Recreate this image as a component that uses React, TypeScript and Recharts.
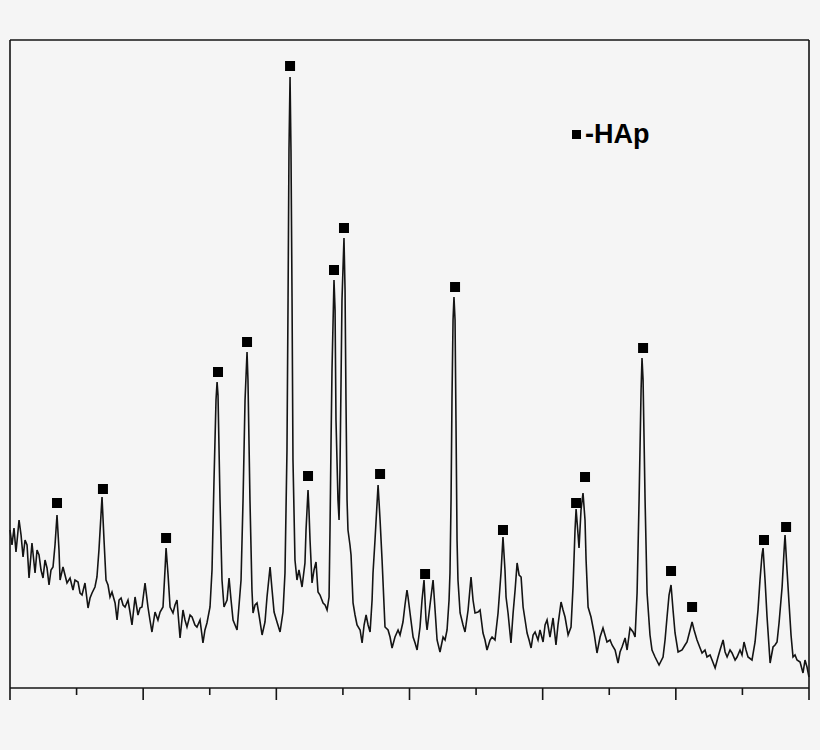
import { ComposedChart, Line, Scatter, XAxis, YAxis } from 'recharts'

// XRD pattern, 2θ (deg) vs intensity (a.u.)
const pattern: [number, number][] = [
  [10.0, 158], [10.15, 143], [10.3, 160], [10.45, 136], [10.68, 168], [10.83, 153],
  [10.98, 131], [11.13, 148], [11.28, 143], [11.43, 110], [11.65, 145], [11.88, 115],
  [12.03, 138], [12.18, 133], [12.33, 118], [12.48, 110], [12.63, 128], [12.78, 120],
  [12.93, 103], [13.08, 118], [13.23, 121], [13.38, 143], [13.53, 173], [13.68, 138],
  [13.76, 108], [13.98, 121], [14.13, 113], [14.28, 105], [14.51, 110], [14.73, 98],
  [14.88, 108], [15.11, 106], [15.26, 95], [15.41, 93], [15.63, 105], [15.86, 80],
  [16.01, 90], [16.16, 95], [16.38, 101], [16.53, 111], [16.68, 138], [16.91, 191],
  [17.06, 148], [17.21, 108], [17.36, 103], [17.51, 91], [17.66, 96], [17.89, 85],
  [18.04, 68], [18.19, 88], [18.34, 90], [18.49, 83], [18.64, 81], [18.86, 88],
  [19.01, 76], [19.16, 63], [19.39, 91], [19.61, 73], [19.76, 80], [19.91, 81],
  [20.14, 105], [20.36, 81], [20.51, 68], [20.66, 56], [20.89, 76], [21.11, 68],
  [21.27, 76], [21.49, 81], [21.64, 118], [21.72, 140], [21.87, 113], [22.02, 81],
  [22.24, 75], [22.39, 83], [22.54, 88], [22.77, 50], [22.99, 78], [23.14, 68],
  [23.29, 61], [23.52, 73], [23.67, 71], [23.89, 63], [24.04, 61], [24.27, 68],
  [24.49, 45], [24.64, 58], [24.79, 65], [25.02, 81], [25.17, 118], [25.32, 208],
  [25.47, 288], [25.55, 306], [25.62, 293], [25.77, 188], [25.92, 108], [26.07, 81],
  [26.3, 88], [26.45, 110], [26.6, 88], [26.75, 68], [26.9, 63], [27.05, 58],
  [27.2, 83], [27.35, 108], [27.5, 188], [27.65, 288], [27.8, 336], [27.87, 308],
  [28.02, 188], [28.17, 98], [28.25, 75], [28.4, 83], [28.55, 85], [28.7, 73],
  [28.93, 53], [29.15, 66], [29.3, 91], [29.53, 121], [29.68, 98], [29.83, 76],
  [30.05, 66], [30.28, 56], [30.5, 76], [30.65, 115], [30.8, 238], [30.88, 388],
  [30.95, 538], [31.03, 611], [31.1, 538], [31.18, 388], [31.25, 228], [31.4, 128],
  [31.55, 108], [31.7, 118], [31.93, 101], [32.15, 125], [32.23, 158], [32.38, 198],
  [32.45, 178], [32.53, 148], [32.68, 105], [32.83, 118], [32.98, 126], [33.13, 96],
  [33.28, 93], [33.51, 85], [33.66, 83], [33.81, 78], [33.96, 91], [34.03, 158],
  [34.11, 248], [34.18, 318], [34.33, 408], [34.41, 378], [34.48, 268], [34.63, 188],
  [34.71, 168], [34.78, 218], [34.86, 308], [34.93, 388], [35.08, 450], [35.16, 398],
  [35.23, 288], [35.31, 188], [35.38, 158], [35.53, 143], [35.61, 133], [35.76, 85],
  [35.91, 73], [36.06, 63], [36.29, 58], [36.44, 45], [36.59, 63], [36.74, 73],
  [36.89, 63], [37.04, 56], [37.19, 88], [37.26, 115], [37.41, 148], [37.64, 203],
  [37.79, 168], [37.94, 128], [38.16, 61], [38.39, 58], [38.54, 51], [38.69, 40],
  [38.91, 51], [39.14, 58], [39.29, 53], [39.51, 66], [39.66, 83], [39.81, 98],
  [39.89, 91], [40.04, 75], [40.27, 51], [40.42, 45], [40.57, 38], [40.79, 61],
  [40.94, 88], [41.09, 108], [41.24, 68], [41.32, 58], [41.54, 83], [41.77, 108],
  [41.92, 78], [42.07, 48], [42.29, 36], [42.52, 51], [42.67, 48], [42.82, 58],
  [42.97, 88], [43.04, 115], [43.12, 188], [43.19, 288], [43.27, 368], [43.34, 391],
  [43.42, 368], [43.49, 268], [43.57, 148], [43.64, 108], [43.8, 75], [44.02, 63],
  [44.17, 56], [44.4, 78], [44.62, 111], [44.77, 88], [44.92, 75], [45.15, 76],
  [45.3, 78], [45.52, 55], [45.67, 48], [45.82, 38], [46.05, 48], [46.2, 51],
  [46.42, 48], [46.65, 75], [46.87, 115], [47.02, 151], [47.17, 118], [47.25, 91],
  [47.4, 75], [47.62, 45], [47.78, 75], [47.93, 98], [48.08, 125], [48.23, 113],
  [48.38, 111], [48.53, 81], [48.68, 68], [48.83, 55], [48.98, 48], [49.13, 40],
  [49.28, 53], [49.43, 56], [49.65, 48], [49.8, 58], [50.03, 46], [50.18, 63],
  [50.33, 68], [50.55, 51], [50.78, 70], [51.0, 43], [51.15, 63], [51.38, 86],
  [51.53, 78], [51.68, 71], [51.91, 53], [52.13, 61], [52.28, 101], [52.43, 158],
  [52.51, 179], [52.66, 153], [52.73, 140], [52.88, 178], [53.03, 195], [53.18, 168],
  [53.26, 128], [53.41, 81], [53.63, 71], [53.86, 55], [54.08, 35], [54.31, 51],
  [54.53, 60], [54.68, 53], [54.83, 46], [55.06, 48], [55.21, 43], [55.44, 38],
  [55.66, 25], [55.81, 36], [55.96, 41], [56.19, 50], [56.34, 38], [56.56, 60],
  [56.79, 56], [56.94, 51], [57.09, 95], [57.24, 188], [57.39, 298], [57.46, 330],
  [57.54, 308], [57.69, 188], [57.84, 95], [58.06, 53], [58.21, 38], [58.44, 31],
  [58.74, 23], [59.04, 31], [59.19, 48], [59.34, 71], [59.49, 93], [59.64, 103],
  [59.79, 78], [59.94, 55], [60.17, 36], [60.47, 38], [60.69, 43], [60.84, 46],
  [61.07, 58], [61.22, 66], [61.37, 58], [61.59, 48], [61.82, 40], [61.97, 35],
  [62.19, 38], [62.34, 31], [62.57, 33], [62.72, 28], [62.95, 20], [63.17, 31],
  [63.32, 38], [63.55, 48], [63.7, 36], [63.85, 31], [64.07, 38], [64.22, 35],
  [64.45, 28], [64.6, 31], [64.82, 38], [64.97, 33], [65.12, 46], [65.27, 38],
  [65.42, 31], [65.72, 28], [65.95, 46], [66.17, 78], [66.32, 108], [66.47, 133],
  [66.55, 140], [66.7, 108], [66.85, 71], [67.08, 25], [67.3, 41], [67.45, 43],
  [67.6, 46], [67.75, 65], [67.98, 101], [68.13, 138], [68.2, 153], [68.35, 118],
  [68.5, 85], [68.65, 53], [68.8, 31], [68.95, 33], [69.1, 28], [69.33, 26],
  [69.55, 15], [69.7, 28], [69.85, 21], [70.0, 11],
]

// HAp reflections marked with ■ (position, marker height)
const hapPeaks: [number, number][] = [
  [13.53, 185], [16.98, 199], [21.72, 150], [25.62, 316], [27.8, 346],
  [31.03, 622], [32.38, 212], [34.33, 418], [35.08, 460], [37.79, 214],
  [41.17, 114], [43.42, 401], [47.02, 158], [52.51, 185], [53.18, 211],
  [57.54, 340], [59.64, 117], [61.22, 81], [66.62, 148], [68.28, 161],
]

const xTicks = [10, 15, 20, 25, 30, 35, 40, 45, 50, 55, 60, 65, 70]
const legendLabel = '-HAp'

const spectrum = pattern.map(([t, i]) => ({ t, i }))
const markers = hapPeaks.map(([t, m]) => ({ t, m }))

const ink = '#141414'
const frame = { stroke: ink, strokeWidth: 1.6 }

function AxisTick(props: any) {
  const { x, y, payload } = props
  const major = payload.value % 10 === 0
  return <line x1={x} y1={y} x2={x} y2={y + (major ? 12 : 7)} stroke={ink} strokeWidth={1.6} />
}

function SquareMark(props: any) {
  const { cx, cy } = props
  return <rect x={cx - 5} y={cy - 5} width={10} height={10} fill="#000" />
}

export default function App() {
  return (
    <div
      style={{
        position: 'absolute',
        left: 0,
        top: 0,
        width: 820,
        height: 750,
        background: '#f5f5f5',
        fontFamily: '"Liberation Sans", Arial, sans-serif',
      }}
    >
      <ComposedChart
        width={820}
        height={750}
        data={spectrum}
        margin={{ top: 39, right: 10, bottom: 32, left: 9 }}
      >
        <XAxis
          dataKey="t"
          type="number"
          domain={[10, 70]}
          ticks={xTicks}
          height={30}
          tickSize={0}
          tickMargin={0}
          tickLine={false}
          tick={<AxisTick />}
          axisLine={frame}
        />
        <XAxis
          xAxisId="top"
          dataKey="t"
          type="number"
          orientation="top"
          domain={[10, 70]}
          height={1}
          tick={false}
          tickLine={false}
          axisLine={frame}
        />
        <YAxis
          type="number"
          domain={[0, 648]}
          width={1}
          tick={false}
          tickLine={false}
          axisLine={frame}
        />
        <YAxis
          yAxisId="right"
          orientation="right"
          type="number"
          domain={[0, 648]}
          width={1}
          tick={false}
          tickLine={false}
          axisLine={frame}
        />
        <Line
          type="linear"
          dataKey="i"
          stroke={ink}
          strokeWidth={1.6}
          dot={false}
          isAnimationActive={false}
        />
        <Scatter data={markers} dataKey="m" shape={<SquareMark />} isAnimationActive={false} />
      </ComposedChart>
      <div
        style={{
          position: 'absolute',
          left: 572,
          top: 119,
          display: 'flex',
          alignItems: 'center',
          fontWeight: 'bold',
          fontSize: 27,
          color: '#000',
        }}
      >
        <span style={{ display: 'inline-block', width: 9, height: 9, background: '#000', marginRight: 4 }} />
        <span>{legendLabel}</span>
      </div>
    </div>
  )
}
